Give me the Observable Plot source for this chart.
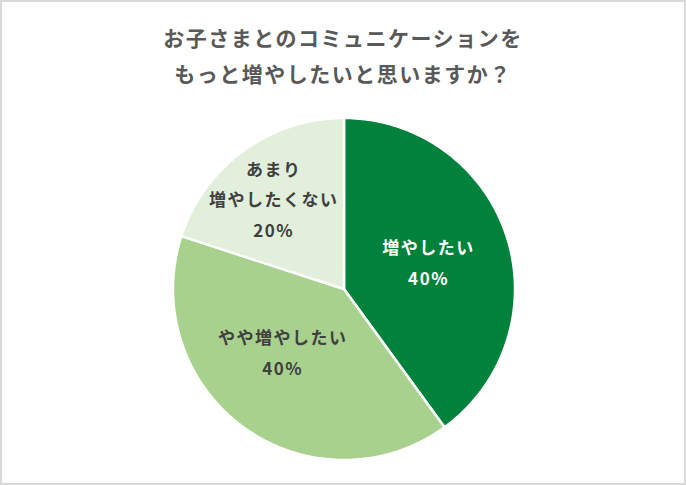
<!DOCTYPE html>
<html>
<head>
<meta charset="utf-8">
<script src="https://cdn.jsdelivr.net/npm/d3@7"></script>
<script src="https://cdn.jsdelivr.net/npm/@observablehq/plot@0.6"></script>
<style>
  html, body { margin: 0; padding: 0; background: #fff; }
  #frame {
    width: 686px; height: 485px; box-sizing: border-box;
    border: 2px solid #d9d9d9; background: #fff; overflow: hidden;
  }
  #title {
    padding-top: 17px; text-align: center;
    font-family: "Noto Sans CJK JP", sans-serif; font-weight: bold;
    font-size: 21px; line-height: 36px; color: #595959; letter-spacing: 1.5px;
  }
</style>
</head>
<body>
<div id="frame">
  <div id="title">お子さまとのコミュニケーションを<br>もっと増やしたいと思いますか？</div>
  <div id="chart"></div>
</div>
<script>
const categories = ["増やしたい", "やや増やしたい", "あまり\n増やしたくない"];
const values = [40, 40, 20];
const colors = ["#00823c", "#a9d18e", "#e2efda"];
const labelColors = ["#ffffff", "#404040", "#404040"];

const arcs = d3.pie().sort(null).value((d, i) => values[i])(categories);

const sliceRows = arcs.map((a, i) => {
  const pts = [{x: 0, y: 0}];
  const steps = Math.max(2, Math.ceil((a.endAngle - a.startAngle) / (Math.PI / 180)));
  for (let k = 0; k <= steps; k++) {
    const t = a.startAngle + (a.endAngle - a.startAngle) * k / steps;
    pts.push({x: Math.sin(t), y: Math.cos(t)});
  }
  pts.push({x: 0, y: 0});
  return pts;
});

// label placement tweaks (pixels), mimicking the original's layout
const labelOffsets = [[0, -2], [-9, -11], [-4, -1]];

const labelRows = arcs.map((a, i) => {
  const mid = (a.startAngle + a.endAngle) / 2;
  const r = values[i] < 30 ? 0.66 : 0.52;
  return {
    x: Math.sin(mid) * r,
    y: Math.cos(mid) * r,
    text: categories[i] + "\n" + values[i] + "%",
    fill: labelColors[i]
  };
});

const W = 682, H = 390, R = 171, cx = 341.5, cy = 197.5;

const chart = Plot.plot({
  width: W,
  height: H,
  marginLeft: cx - R,
  marginRight: W - cx - R,
  marginTop: cy - R,
  marginBottom: H - cy - R,
  x: {domain: [-1, 1], axis: null},
  y: {domain: [-1, 1], axis: null},
  style: {fontFamily: "'Noto Sans CJK JP', sans-serif", background: "transparent"},
  marks: [
    ...sliceRows.map((pts, i) => Plot.line(pts, {
      x: "x", y: "y", fill: colors[i], stroke: "#ffffff",
      strokeWidth: 2.5, strokeLinejoin: "round", curve: "linear"
    })),
    ...labelRows.map((row, i) => Plot.text([row], {
      x: "x", y: "y", text: "text", fill: row.fill,
      dx: labelOffsets[i][0], dy: labelOffsets[i][1],
      fontSize: 17, fontWeight: "bold", lineHeight: 1.8,
      fontFamily: "'Noto Sans CJK JP', sans-serif"
    }))
  ]
});
d3.select(chart).selectAll("text").style("letter-spacing", "1.5px");
document.getElementById("chart").appendChild(chart);
</script>
</body>
</html>
